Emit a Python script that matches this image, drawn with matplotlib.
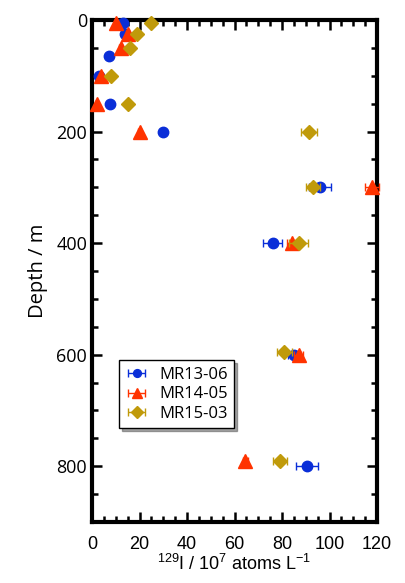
import numpy as np
import matplotlib
matplotlib.use("Agg")
import matplotlib.pyplot as plt
from matplotlib.ticker import MultipleLocator

plt.rcParams["mathtext.fontset"] = "custom"
plt.rcParams["mathtext.rm"] = "Liberation Sans"
plt.rcParams["mathtext.it"] = "Liberation Sans"

# 129I depth profiles for three cruises
depth_13 = [5, 25, 65, 100, 150, 200, 300, 400, 600, 800]
iodine_13 = [13, 14, 7, 3, 7.5, 30, 96, 76, 85, 90.5]
err_13 = [0.5, 0.5, 0.5, 0.3, 0.5, 0.8, 4.5, 4, 2.5, 4.5]

depth_14 = [5, 25, 50, 100, 150, 200, 300, 400, 600, 790]
iodine_14 = [10, 15, 12, 4, 2, 20, 118, 84, 87, 64.5]
err_14 = [0.5, 0.5, 0.5, 0.3, 0.3, 0.8, 3, 2, 2, 1]

depth_15 = [5, 25, 50, 100, 150, 200, 300, 400, 595, 790]
iodine_15 = [25, 19, 16, 8, 15, 91.5, 93, 87, 81, 79]
err_15 = [0.5, 0.5, 0.5, 0.4, 0.5, 3.3, 3, 4, 3, 3]

labels = ["MR13-06", "MR14-05", "MR15-03"]

fig = plt.figure(figsize=(4.06, 5.83), dpi=100)
ax = fig.add_axes([0.2266, 0.1046, 0.702, 0.861])

ax.errorbar(iodine_13, depth_13, xerr=err_13, fmt="o", color="#0a2ed8",
            ms=7.5, capsize=3, elinewidth=1, capthick=1, clip_on=False,
            label=labels[0], zorder=3)
ax.errorbar(iodine_14, depth_14, xerr=err_14, fmt="^", color="#ff3300",
            ms=10, capsize=3, elinewidth=1, capthick=1, clip_on=False,
            label=labels[1], zorder=4)
ax.errorbar(iodine_15, depth_15, xerr=err_15, fmt="D", color="#c09a0a",
            ms=7.5, capsize=3, elinewidth=1, capthick=1, clip_on=False,
            label=labels[2], zorder=5)

ax.set_xlim(0, 120)
ax.set_ylim(900, 0)
ax.xaxis.set_major_locator(MultipleLocator(20))
ax.xaxis.set_minor_locator(MultipleLocator(5))
ax.yaxis.set_major_locator(MultipleLocator(200))
ax.yaxis.set_minor_locator(MultipleLocator(50))
ax.tick_params(which="both", direction="in", top=True, right=True, width=1.8)
ax.tick_params(which="major", length=7.5)
ax.tick_params(which="minor", length=4)
ax.tick_params(axis="x", pad=10)
for s in ax.spines.values():
    s.set_linewidth(3)

for t in ax.get_xticklabels():
    t.set_fontfamily("Liberation Sans")
    t.set_fontsize(13)
for t in ax.get_yticklabels():
    t.set_fontfamily("Open Sans")
    t.set_fontsize(13)

ax.set_xlabel(r"$^{129}$I / 10$^{7}$ atoms L$^{-1}$", fontsize=13,
              fontfamily="Liberation Sans", labelpad=1)
ax.set_ylabel("Depth / m", fontsize=14.5, fontfamily="Open Sans", labelpad=6)

leg = ax.legend(loc="upper left", bbox_to_anchor=(0.095, 0.322),
                borderaxespad=0, fancybox=False, shadow=True,
                prop={"family": "Open Sans", "size": 12},
                handletextpad=0.7, borderpad=0.4, labelspacing=0.2,
                handlelength=1.3, markerscale=0.75)
leg.get_frame().set_edgecolor("black")
leg.get_frame().set_linewidth(1)

fig.savefig("out.png", dpi=100)
